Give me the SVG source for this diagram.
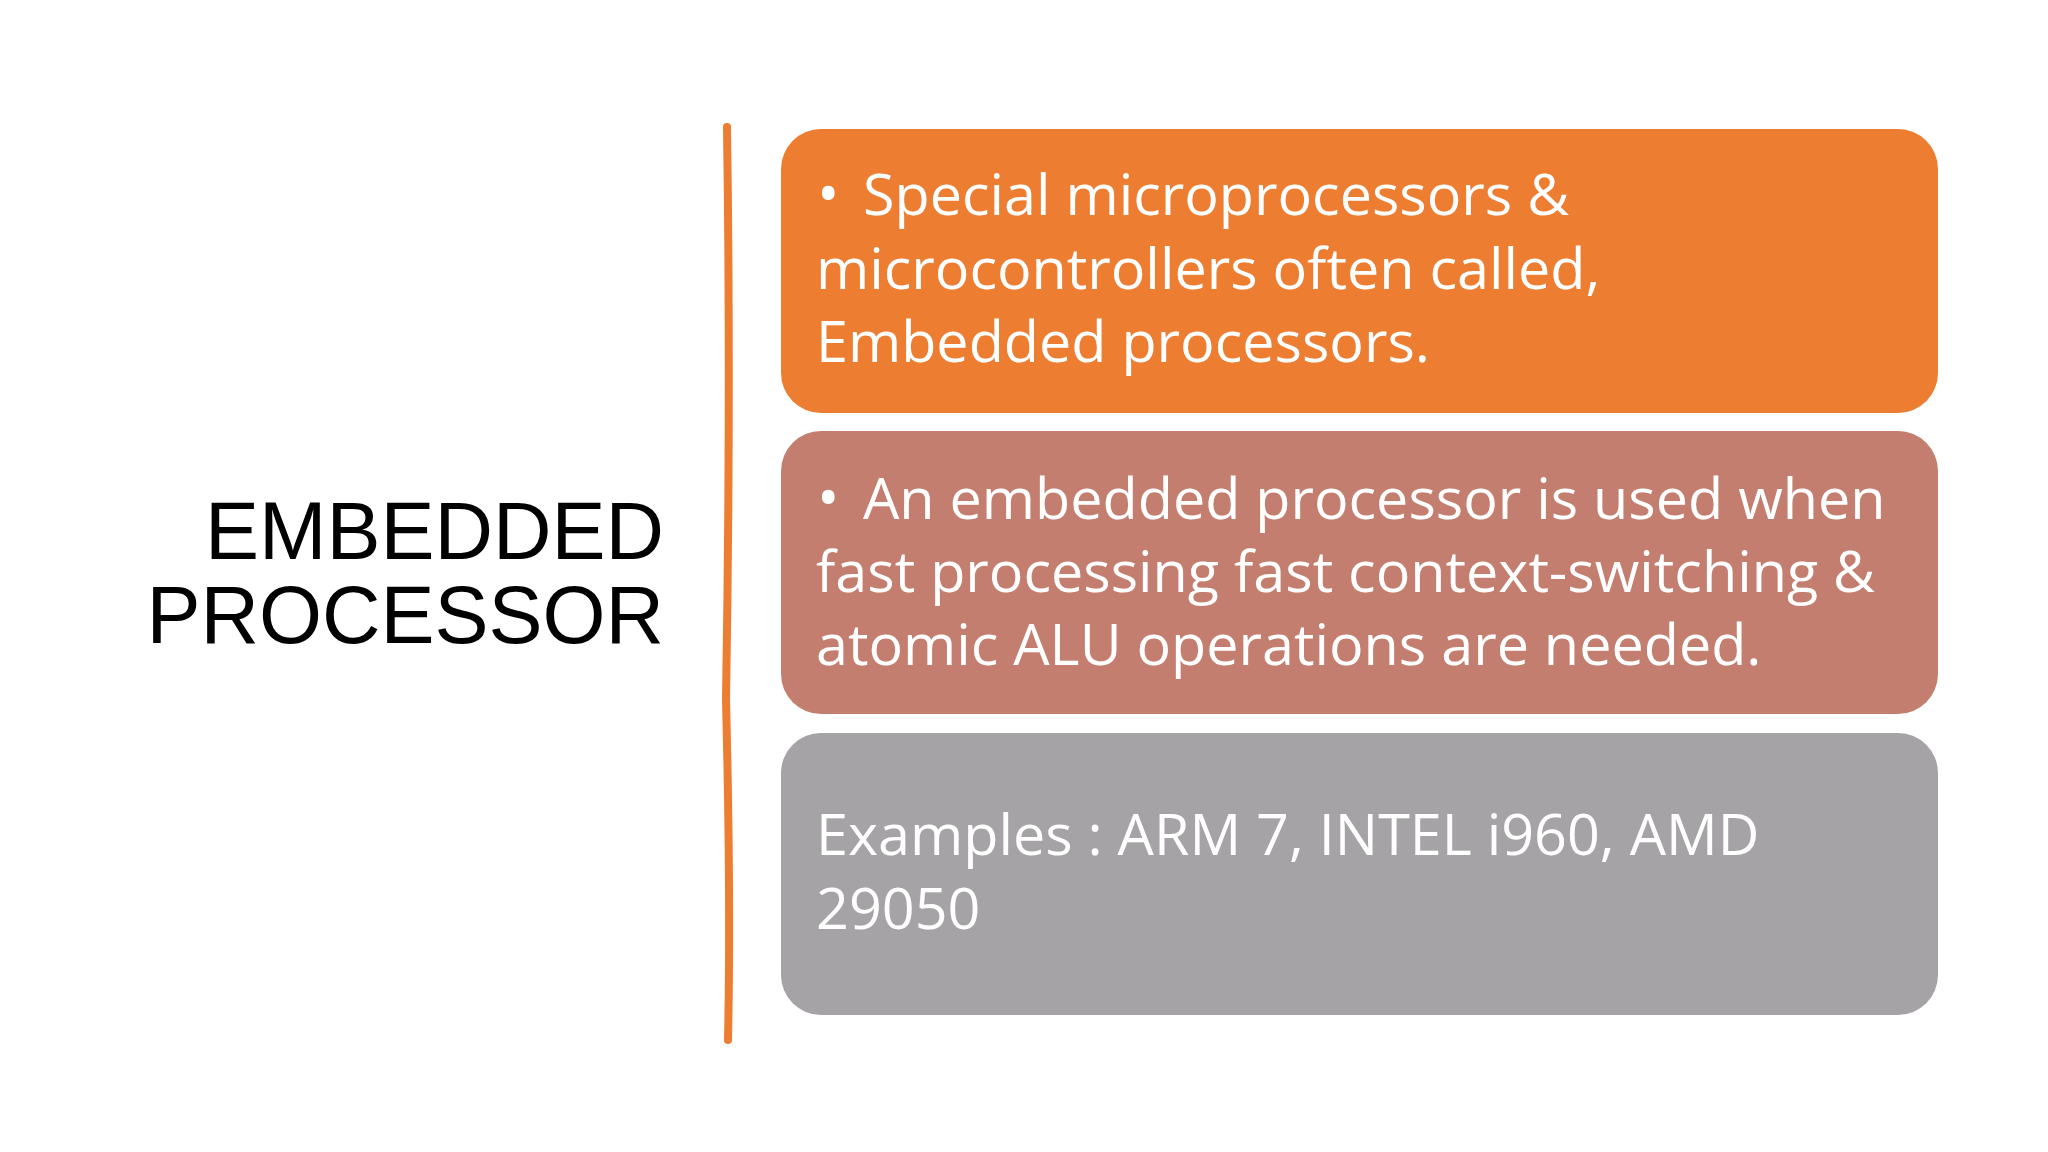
<svg xmlns="http://www.w3.org/2000/svg" width="2048" height="1152" viewBox="0 0 2048 1152">
<style>
.t{font-family:"Open Sans","Noto Sans",sans-serif;font-size:57.5px;fill:#fff}
.b{font-family:"Open Sans","Noto Sans",sans-serif;font-size:60px;fill:#fff}
.h{font-family:"Liberation Sans",Arial,sans-serif;font-size:81px;fill:#000;text-anchor:end}
</style>
<rect width="2048" height="1152" fill="#fff"/>
<g id="title"><text class="h" x="664" y="559">EMBEDDED</text><text class="h" x="664" y="643">PROCESSOR</text></g>
<g id="connectors"><path d="M727 127 Q731 400 726 700 Q731 900 728 1040" stroke="#ED7D31" stroke-width="8" fill="none" stroke-linecap="round"/></g>
<g id="box1"><rect x="781" y="129" width="1157" height="284" rx="40" fill="#ED7D31"/>
<text class="b" x="817" y="215">•</text><text class="t" x="863" y="215">Special microprocessors &amp;</text>
<text class="t" x="816" y="289">microcontrollers often called,</text>
<text class="t" x="816" y="362">Embedded processors.</text></g>
<g id="box2"><rect x="781" y="431" width="1157" height="283" rx="40" fill="#C47E6F"/>
<text class="b" x="817" y="519">•</text><text class="t" x="863" y="519">An embedded processor is used when</text>
<text class="t" x="816" y="592">fast processing fast context-switching &amp;</text>
<text class="t" x="816" y="665">atomic ALU operations are needed.</text></g>
<g id="box3"><rect x="781" y="733" width="1157" height="282" rx="40" fill="#A5A3A5"/>
<text class="t" x="816" y="855">Examples : ARM 7, INTEL i960, AMD</text>
<text class="t" x="816" y="929">29050</text></g>
</svg>
